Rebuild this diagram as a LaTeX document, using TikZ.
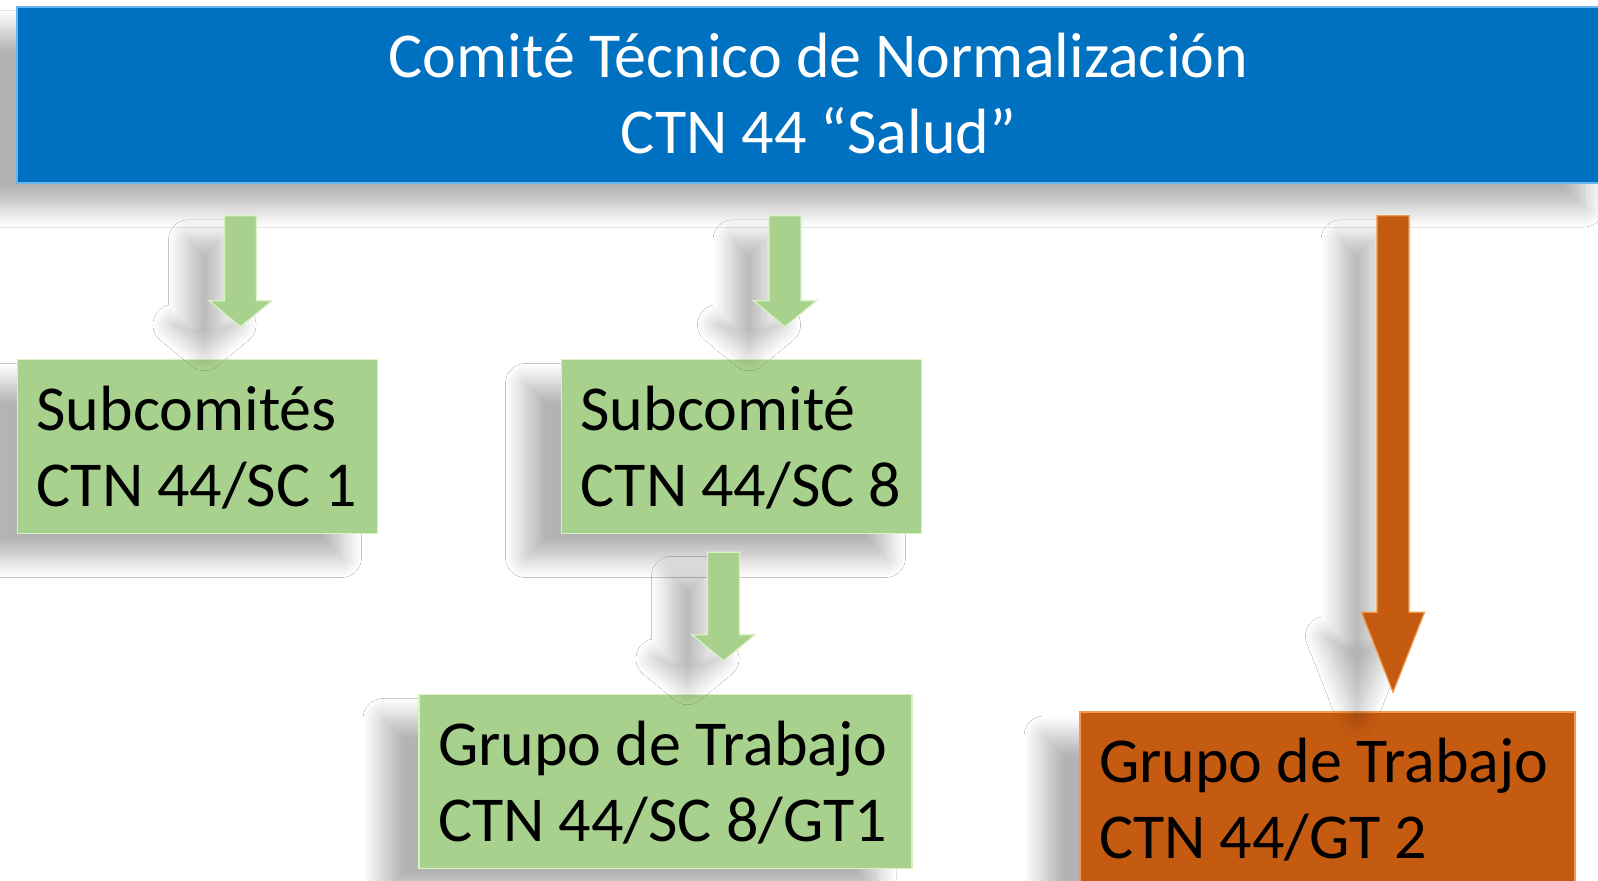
\documentclass[tikz,border=0pt]{standalone}
\usepackage{fontspec}
\setmainfont{Carlito}
\usetikzlibrary{calc}
\usetikzlibrary{shadows.blur}
\definecolor{color_ctn_blue}{HTML}{0070C0}
\definecolor{color_ctn_blue_edge}{HTML}{6AB4EE}
\definecolor{color_sc_green}{HTML}{A9D18E}
\definecolor{color_sc_green_edge}{HTML}{D8F2C4}
\definecolor{color_gt_orange}{HTML}{C55A11}
\definecolor{color_gt_orange_edge}{HTML}{F59A4A}
\def\reservedspace{\fill[white] (0,0) rectangle (1598,881); \useasboundingbox (0,0) rectangle (1598,881);}

\begin{document}
\begin{tikzpicture}[x=0.5pt, y=-0.5pt,
    softshadow/.style={blur shadow={shadow xshift=-18pt, shadow yshift=-12pt, shadow blur radius=10pt,
        shadow blur steps=24, shadow opacity=30}},
    orgbox/.style={rectangle, softshadow, line width=0.8pt, inner xsep=9.5pt, inner ysep=0pt,
        minimum height=87pt, align=left, text height=20pt, text depth=36.5pt,
        font=\fontsize{32}{38}\selectfont, execute at begin node={\spaceskip=7pt\relax}},
    scbox/.style={orgbox, fill=color_sc_green, draw=color_sc_green_edge},
    gtbox/.style={orgbox, fill=color_gt_orange, draw=color_gt_orange_edge},
    blockarrow/.style={softshadow, line width=0.6pt, to path={let \p1=(\tikztostart), \p2=(\tikztotarget) in
        ({\x1-8pt},\y1) -- ({\x1+8pt},\y1) -- ({\x1+8pt},{\y2+#1}) -- ({\x1+15.75pt},{\y2+#1})
        -- (\x1,\y2) -- ({\x1-15.75pt},{\y2+#1}) -- ({\x1-8pt},{\y2+#1}) -- cycle}},
    greenarrow/.style={blockarrow=13pt, fill=color_sc_green, draw=color_sc_green_edge},
    orangearrow/.style={blockarrow=40pt, fill=color_gt_orange, draw=color_gt_orange_edge}]
    \reservedspace
    % committee and its bodies
    \node[orgbox, fill=color_ctn_blue, draw=color_ctn_blue_edge, text=white, align=center,
        minimum width=801.5pt, minimum height=88pt, text width=780pt, text depth=37pt] (ctn) at (818.5,95)
        {Comité Técnico de Normalización\\CTN 44 “Salud”};
    \node[scbox, text width=161pt] (sc1) at (197.5,446.5) {\mbox{Subcomités}\\\mbox{CTN 44/SC 1}};
    \node[scbox, text width=161pt] (sc8) at (741.5,446.5) {\mbox{Subcomité}\\\mbox{CTN 44/SC 8}};
    \node[scbox, text width=227.5pt] (gt1) at (665.5,781.5) {\mbox{Grupo de Trabajo}\\\mbox{CTN 44/SC 8/GT1}};
    \node[gtbox, text width=228.5pt] (gt2) at (1327.5,799) {\mbox{Grupo de Trabajo}\\\mbox{CTN 44/GT 2}};
    % arrow columns
    \coordinate (a1) at (240.5,0);
    \coordinate (a2) at (785,0);
    \coordinate (a3) at (723.5,0);
    \coordinate (a4) at (1393,0);
    \draw[greenarrow] ($(ctn.south -| a1)+(0pt,-16pt)$) to ($(sc1.north -| a1)+(0pt,16pt)$);
    \draw[greenarrow] ($(ctn.south -| a2)+(0pt,-16pt)$) to ($(sc8.north -| a2)+(0pt,16pt)$);
    \draw[greenarrow] ($(sc8.south -| a3)+(0pt,-9pt)$) to ($(gt1.north -| a3)+(0pt,16.5pt)$);
    \draw[orangearrow] ($(ctn.south -| a4)+(0pt,-16pt)$) to ($(gt2.north -| a4)+(0pt,9.5pt)$);
\end{tikzpicture}
\end{document}
